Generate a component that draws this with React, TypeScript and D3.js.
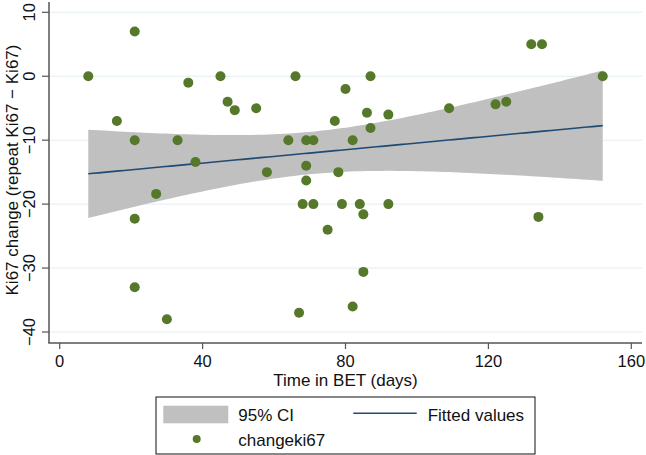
import React from "react";
import * as d3 from "d3";

const days: number[] = [8, 21, 16, 21, 33, 36, 38, 27, 21, 21, 30, 45, 47, 49, 55, 66, 80, 87, 86, 92, 77, 87, 64, 69, 71, 82, 58, 69, 69, 78, 68, 71, 79, 84, 92, 85, 75, 85, 82, 67, 109, 122, 125, 132, 135, 152, 134];
const changeKi67: number[] = [0, 7, -7, -10, -10, -1, -13.4, -18.4, -22.3, -33, -38, 0, -4, -5.3, -5, 0, -2, 0, -5.7, -6, -7, -8.1, -10, -10, -10, -10, -15, -14, -16.3, -15, -20, -20, -20, -20, -20, -21.6, -24, -30.6, -36, -37, -5, -4.4, -4, 5, 5, 0, -22];
const xTicks: number[] = [0, 40, 80, 120, 160];
const yTicks: number[] = [-40, -30, -20, -10, 0, 10];
const tCrit = 2.014; // t(0.975, df = n - 2)

const FONT = "'Liberation Sans', Arial, Helvetica, sans-serif";
const GREEN = "#56782a";
const NAVY = "#1f4a73";
const BAND = "#c0c0c0";
const GRID = "#e4eef1";
const AXIS = "#555555";

export default function App() {
  const W = 646, H = 455;
  const x = d3.scaleLinear().domain([0, 160]).range([59.7, 631.3]);
  const y = d3.scaleLinear().domain([-40, 10]).range([332, 12.3]);

  const n = days.length;
  const xbar = d3.mean(days)!;
  const ybar = d3.mean(changeKi67)!;
  let sxx = 0, sxy = 0;
  for (let i = 0; i < n; i++) {
    sxx += (days[i] - xbar) ** 2;
    sxy += (days[i] - xbar) * (changeKi67[i] - ybar);
  }
  const b = sxy / sxx;
  const a = ybar - b * xbar;
  let sse = 0;
  for (let i = 0; i < n; i++) sse += (changeKi67[i] - (a + b * days[i])) ** 2;
  const s = Math.sqrt(sse / (n - 2));
  const xmin = d3.min(days)!, xmax = d3.max(days)!;
  const grid = d3.range(0, 101).map((k) => xmin + ((xmax - xmin) * k) / 100);
  const band = grid.map((xv) => {
    const fit = a + b * xv;
    const se = s * Math.sqrt(1 / n + (xv - xbar) ** 2 / sxx);
    return { xv, fit, lo: fit - tCrit * se, hi: fit + tCrit * se };
  });
  const area = d3
    .area<{ xv: number; lo: number; hi: number }>()
    .x((d) => x(d.xv))
    .y0((d) => y(d.lo))
    .y1((d) => y(d.hi));
  const line = d3
    .line<{ xv: number; fit: number }>()
    .x((d) => x(d.xv))
    .y((d) => y(d.fit));

  const axisX = 49;
  const axisY = 343;
  const plotRight = 642;

  return (
    <svg width={W} height={H} style={{ position: "absolute", left: 0, top: 0, background: "#fff" }} fontFamily={FONT}>
      <rect x={0} y={0} width={W} height={H} fill="#fff" />
      {yTicks.map((t) => (
        <line key={"g" + t} x1={axisX} x2={plotRight} y1={y(t)} y2={y(t)} stroke={GRID} strokeWidth={1} />
      ))}
      <path d={area(band) || ""} fill={BAND} stroke="none" />
      <path d={line(band) || ""} fill="none" stroke={NAVY} strokeWidth={1.6} />
      {days.map((d, i) => (
        <circle key={i} cx={x(d)} cy={y(changeKi67[i])} r={5} fill={GREEN} />
      ))}
      {/* axes */}
      <line x1={axisX} x2={axisX} y1={2} y2={axisY} stroke={AXIS} strokeWidth={1.5} />
      <line x1={axisX - 0.75} x2={plotRight} y1={axisY} y2={axisY} stroke={AXIS} strokeWidth={1.5} />
      {yTicks.map((t) => (
        <g key={"yt" + t}>
          <line x1={axisX - 7} x2={axisX} y1={y(t)} y2={y(t)} stroke={AXIS} strokeWidth={1.2} />
          <text
            transform={`translate(35,${y(t)}) rotate(-90)`}
            textAnchor="middle"
            fontSize={16.5}
            fill="#111"
          >
            {t < 0 ? "\u2212" + Math.abs(t) : String(t)}
          </text>
        </g>
      ))}
      {xTicks.map((t) => (
        <g key={"xt" + t}>
          <line x1={x(t)} x2={x(t)} y1={axisY} y2={axisY + 6} stroke={AXIS} strokeWidth={1.2} />
          <text x={x(t)} y={366.5} textAnchor="middle" fontSize={16.5} fill="#111">
            {t}
          </text>
        </g>
      ))}
      <text x={345.5} y={385.5} textAnchor="middle" fontSize={17} fill="#111">
        Time in BET (days)
      </text>
      <text transform="translate(18,170) rotate(-90)" textAnchor="middle" fontSize={17} fill="#111">
        Ki67 change (repeat Ki67 {"\u2212"} Ki67)
      </text>
      {/* legend */}
      <rect x={156} y={397} width={379} height={57} fill="#fff" stroke="#111" strokeWidth={1} />
      <rect x={163.3} y={405.7} width={65} height={17.6} fill={BAND} />
      <text x={238.3} y={421} fontSize={17} fill="#111">95% CI</text>
      <line x1={353.3} x2={416.7} y1={413.3} y2={413.3} stroke={NAVY} strokeWidth={1.6} />
      <text x={427.7} y={421} fontSize={17} fill="#111">Fitted values</text>
      <circle cx={196.7} cy={439} r={4} fill={GREEN} />
      <text x={238.3} y={445.5} fontSize={17} fill="#111">changeki67</text>
    </svg>
  );
}
